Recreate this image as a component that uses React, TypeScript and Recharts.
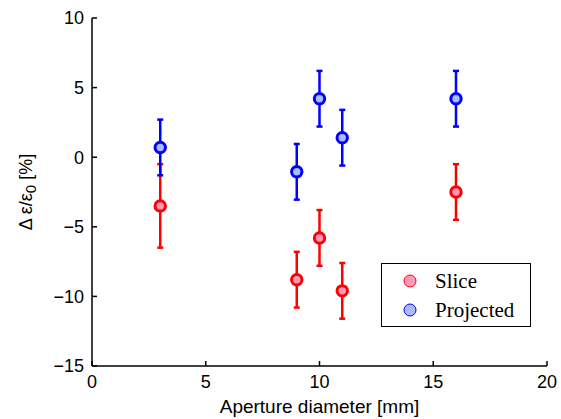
import {
  ScatterChart,
  Scatter,
  XAxis,
  YAxis,
  ErrorBar,
  Legend,
} from "recharts";

// aperture diameters [mm]
const apertures = [3, 9, 10, 11, 16];
const sliceValues = [-3.5, -8.8, -5.8, -9.6, -2.5];
const sliceErrors = [3, 2, 2, 2, 2];
const projectedValues = [0.7, -1.05, 4.2, 1.4, 4.2];
const projectedErrors = [2, 2, 2, 2, 2];
const xTicks = [0, 5, 10, 15, 20];
const yTicks = [-15, -10, -5, 0, 5, 10];

const sliceData = apertures.map((d, i) => ({
  d,
  v: sliceValues[i],
  err: sliceErrors[i],
}));
const projectedData = apertures.map((d, i) => ({
  d,
  v: projectedValues[i],
  err: projectedErrors[i],
}));

const SANS = "'Liberation Sans', Arial, sans-serif";
const SERIF = "'Liberation Serif', 'Times New Roman', serif";

const fmtMinus = (v: number) => String(v).replace("-", "\u2212");

const marker = (fill: string, stroke: string) => (props: any) =>
  (
    <circle
      cx={props.cx}
      cy={props.cy}
      r={5.2}
      fill={fill}
      stroke={stroke}
      strokeWidth={3}
    />
  );

const YLabel = (props: any) => {
  const vb = props.viewBox || {};
  const cx = vb.x + 27;
  const cy = vb.y + vb.height / 2;
  return (
    <text
      x={cx}
      y={cy}
      transform={`rotate(-90 ${cx} ${cy})`}
      textAnchor="middle"
      dominantBaseline="middle"
      fontFamily={SANS}
      fontSize={18}
      fill="#000"
    >
      Δ ε/ε
      <tspan dy={5} fontSize={15}>
        0
      </tspan>
      <tspan dy={-5}> [%]</tspan>
    </text>
  );
};

const LegendBox = () => (
  <div
    style={{
      width: 148,
      height: 62,
      border: "1.5px solid #000",
      background: "#fff",
      position: "relative",
      fontFamily: SERIF,
      fontSize: 21,
      color: "#000",
    }}
  >
    {[
      { name: "Slice", fill: "#ff99bb", stroke: "#ff0000", top: 17 },
      { name: "Projected", fill: "#aabbff", stroke: "#0000ff", top: 46 },
    ].map((it) => (
      <div key={it.name}>
        <svg
          width={14}
          height={14}
          style={{ position: "absolute", left: 21, top: it.top - 7 }}
        >
          <circle cx={7} cy={7} r={6} fill={it.fill} stroke={it.stroke} strokeWidth={1} />
        </svg>
        <span
          style={{
            position: "absolute",
            left: 53,
            top: it.top - 13,
            lineHeight: "26px",
            whiteSpace: "nowrap",
          }}
        >
          {it.name}
        </span>
      </div>
    ))}
  </div>
);

export default function App() {
  return (
    <div style={{ position: "absolute", left: 0, top: 0, background: "#fff" }}>
      <ScatterChart
        width={561}
        height={419}
        margin={{ top: 18, right: 14, bottom: 0, left: 0 }}
      >
        <XAxis
          xAxisId="bottom"
          type="number"
          dataKey="d"
          domain={[0, 20]}
          ticks={xTicks}
          height={53}
          tickSize={-5}
          tickMargin={14}
          stroke="#000"
          strokeWidth={1.5}
          tickFormatter={fmtMinus}
          tick={{ fill: "#000", fontSize: 18, fontFamily: SANS }}
          label={{
            value: "Aperture diameter [mm]",
            position: "insideBottom",
            offset: 6,
            fill: "#000",
            fontSize: 19,
            fontFamily: SANS,
          }}
        />
        <XAxis
          xAxisId="top"
          orientation="top"
          type="number"
          dataKey="d"
          domain={[0, 20]}
          ticks={xTicks}
          height={0}
          tickSize={-5}
          tickFormatter={() => ""}
          stroke="#000"
          strokeWidth={1.5}
        />
        <YAxis
          yAxisId="left"
          type="number"
          dataKey="v"
          domain={[-15, 10]}
          ticks={yTicks}
          width={92}
          tickSize={-5}
          tickMargin={13}
          stroke="#000"
          strokeWidth={1.5}
          tickFormatter={fmtMinus}
          tick={{ fill: "#000", fontSize: 18, fontFamily: SANS }}
          label={<YLabel />}
        />
        <YAxis
          yAxisId="right"
          orientation="right"
          type="number"
          dataKey="v"
          domain={[-15, 10]}
          ticks={yTicks}
          width={0}
          tickSize={-5}
          tickFormatter={() => ""}
          stroke="#000"
          strokeWidth={1.5}
        />
        <Legend
          layout="horizontal"
          verticalAlign="middle"
          align="center"
          content={() => <LegendBox />}
          wrapperStyle={{ left: 381, top: 263, width: 151, height: 65 }}
        />
        <Scatter
          name="Slice"
          data={sliceData}
          xAxisId="bottom"
          yAxisId="left"
          shape={marker("#ff99bb", "#ff0000")}
          isAnimationActive={false}
        >
          <ErrorBar
            dataKey="err"
            direction="y"
            width={3}
            stroke="#ff0000"
            strokeWidth={2.5}
            isAnimationActive={false}
          />
        </Scatter>
        <Scatter
          name="Projected"
          data={projectedData}
          xAxisId="bottom"
          yAxisId="left"
          shape={marker("#aabbff", "#0000ff")}
          isAnimationActive={false}
        >
          <ErrorBar
            dataKey="err"
            direction="y"
            width={3}
            stroke="#0000ff"
            strokeWidth={2.5}
            isAnimationActive={false}
          />
        </Scatter>
      </ScatterChart>
    </div>
  );
}
